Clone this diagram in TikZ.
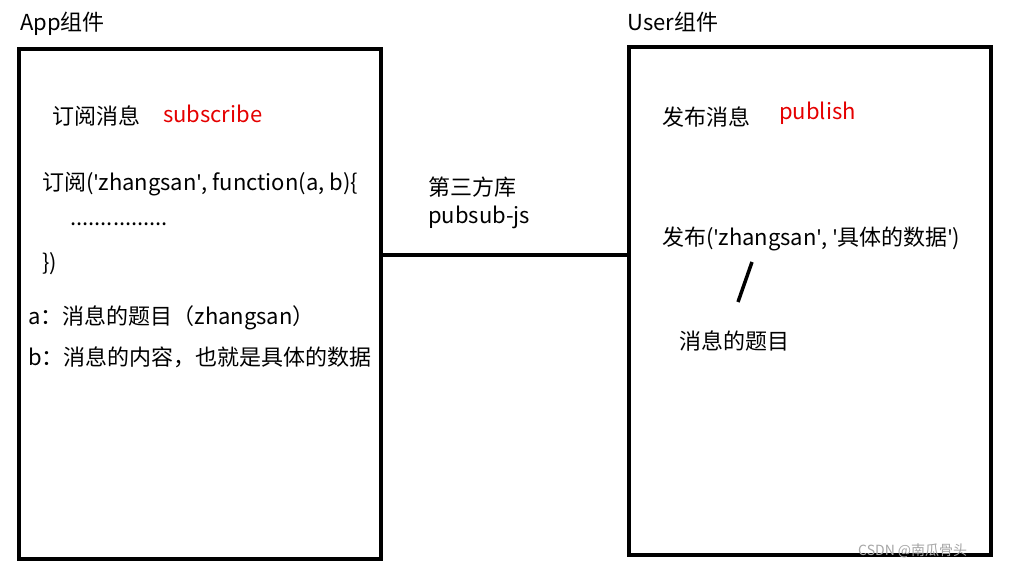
\documentclass[tikz,border=0pt]{standalone}
\usepackage{fontspec}
\setmainfont{Noto Sans CJK SC}
\newfontfamily\latf{Noto Sans}
\newcommand{\q}{{\latf\char39}}
\begin{document}
\begin{tikzpicture}[x=1pt,y=-1pt,
  txt/.style={anchor=west,inner sep=0pt,font=\fontsize{22}{24}\selectfont},
  red/.style={txt,text=red!90!black},
  box/.style={draw,line width=3.5pt}]
\useasboundingbox[fill=white] (0,0) rectangle (1010,570);
\node[box,minimum width=362pt,minimum height=510pt,anchor=north west] (app) at (17,47) {};
\node[box,minimum width=362pt,minimum height=508pt,anchor=north west] (user) at (627,45) {};
\coordinate (l) at (379,255); \coordinate (r) at (627,255);
\draw[line width=3.5pt] (l) -- (r);
\node[txt] (t1) at (20,24) {App组件};
\node[txt] (t2) at (627,22) {User组件};
\node[txt] (t3) at (52,116) {订阅消息};
\node[red] (t4) at (163,114) {subscribe};
\node[txt] (t5) at (42,184) {订阅(\q zhangsan\q, function(a, b)\{};
\node[txt] (t6) at (70,224) {................};
\node[txt] (t7) at (42,264) {\})};
\node[txt] (t8) at (28,318) {a：消息的题目（zhangsan）};
\node[txt] (t9) at (28,357) {b：消息的内容，也就是具体的数据};
\node[txt] (t10) at (428,187) {第三方库};
\node[txt] (t11) at (428,217) {pubsub-js};
\node[txt] (t12) at (662,117) {发布消息};
\node[red] (t13) at (779,113) {publish};
\node[txt] (t14) at (662,239) {发布(\q zhangsan\q, \q 具体的数据\q)};
\coordinate (s1) at (752,262); \coordinate (s2) at (738,302);
\draw[line width=3.5pt] (s1) -- (s2);
\node[txt] (t15) at (679,341) {消息的题目};
\node[anchor=west,inner sep=0pt,text=gray!70,font=\fontsize{14}{16}\selectfont] (wm) at (858,551) {CSDN @南瓜骨头};
\end{tikzpicture}
\end{document}
